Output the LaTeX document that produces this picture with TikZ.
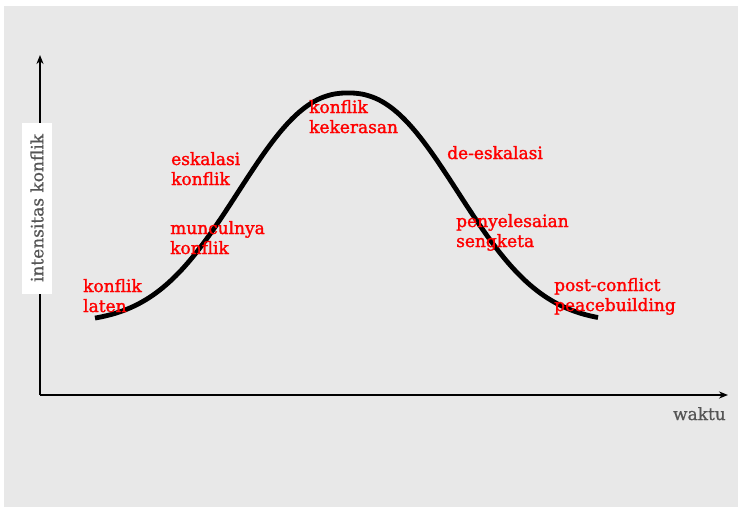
\documentclass[tikz,border=0pt]{standalone}
\usepackage{fontspec}
\setmainfont{DejaVu Serif}
\newfontfamily\heavyfont[FakeBold=1.6]{DejaVu Serif}
\newfontfamily\medfont[FakeBold=0.8]{DejaVu Serif}
\usetikzlibrary{arrows.meta}
\definecolor{bggray}{HTML}{E8E8E8}
\definecolor{axgray}{HTML}{555555}
\begin{document}
\begin{tikzpicture}[x=1pt,y=-1pt,
  lbl/.style={text=red, font=\heavyfont\fontsize{17}{20}\selectfont, align=left, anchor=base west, inner sep=0pt},
  axis/.style={line width=2pt, -{Stealth[length=9pt,width=7pt]}}]
\useasboundingbox (0,0) rectangle (738,508);
\fill[bggray] (4,6) rectangle (738,507);
\coordinate (origin) at (40,395);
\coordinate (ytop) at (40,55);
\coordinate (xend) at (728,395);
\draw[axis] (origin) -- (ytop);
\draw[axis] (origin) -- (xend);
\node[fill=white, rotate=90, text=axgray, font=\medfont\fontsize{17}{20}\selectfont, minimum width=171pt, minimum height=30pt, inner sep=0pt] (ylab) at (37,208) {intensitas konflik};
\node[text=axgray, font=\medfont\fontsize{17}{20}\selectfont, anchor=base east, inner sep=0pt] (xlab) at (726,420) {waktu};
\draw[line width=4.8pt] plot[domain=95:598, samples=150, smooth] (\x, {323-230*exp(-((abs(\x-348)+0.01)/141)^2.3)});
\node[lbl] (laten) at (83,312) {konflik\\laten};
\node[lbl] (eskal) at (171,185) {eskalasi\\konflik};
\node[lbl] (muncul) at (170,254) {munculnya\\konflik};
\node[lbl] (keker) at (309,133) {konflik\\kekerasan};
\node[lbl] (deesk) at (447,159) {de-eskalasi};
\node[lbl] (penye) at (456,247) {penyelesaian\\sengketa};
\node[lbl] (post) at (554,311) {post-conflict\\peacebuilding};
\end{tikzpicture}
\end{document}
